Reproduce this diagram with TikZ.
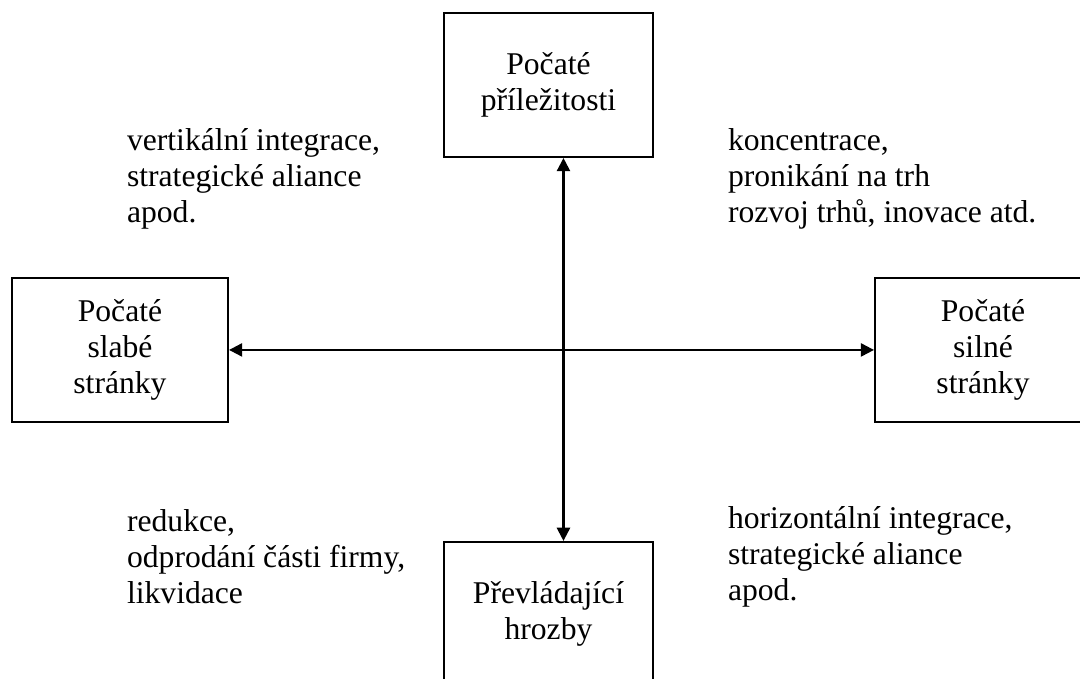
\documentclass[tikz,border=0pt]{standalone}
\usepackage{fontspec}
\setmainfont{Liberation Serif}
\usetikzlibrary{arrows.meta}
\begin{document}
\begin{tikzpicture}[font=\fontsize{12}{13.66}\selectfont, line width=0.8pt,
  >={Triangle[length=5pt,width=5pt]},
  box/.style={rectangle, draw=black, fill=white, align=center, inner sep=0pt, minimum height=1.92cm},
  note/.style={anchor=west, align=left, inner sep=0pt}]
\clip (0,0) rectangle (14.4,9.053);
\node [box, minimum width=2.787cm](Opp) at (7.313,7.92){Počaté\\příležitosti};
\node [box, minimum width=2.88cm](Weak) at (1.6,4.387){Počaté\\slabé\\stránky};
\node [box, minimum width=2.88cm](Str) at (13.107,4.387){Počaté\\silné\\stránky};
\node [box, minimum width=2.787cm](Thr) at (7.313,0.867){Převládající\\hrozby};
\draw [<->]([xshift=0.2cm]Opp.south) -- ([xshift=0.2cm]Thr.north);
\draw [<->](Weak) -- (Str);
\node [note](VI) at (1.68,6.667){vertikální integrace,\\strategické aliance\\apod.};
\node [note](KO) at (9.693,6.667){koncentrace,\\pronikání na trh\\rozvoj trhů, inovace atd.};
\node [note](RE) at (1.68,1.627){redukce,\\odprodání části firmy,\\likvidace};
\node [note](HI) at (9.693,1.627){horizontální integrace,\\strategické aliance\\apod.};
\end{tikzpicture}
\end{document}
